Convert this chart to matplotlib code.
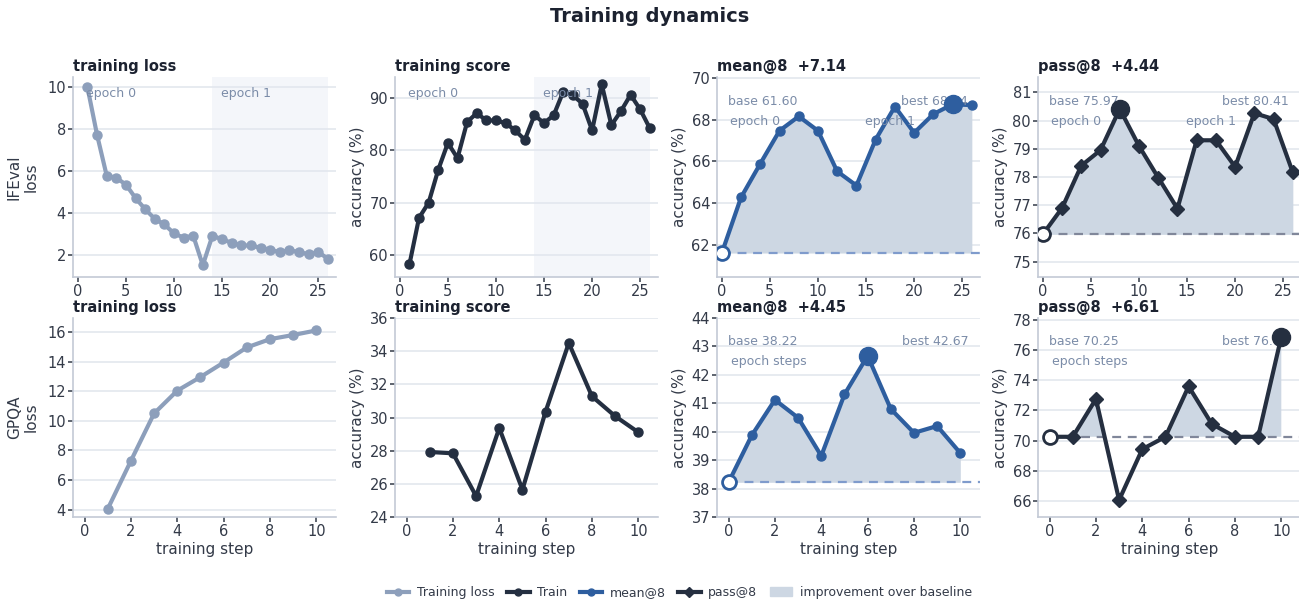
import numpy as np
import matplotlib
matplotlib.use('Agg')
import matplotlib.pyplot as plt
from matplotlib.lines import Line2D
from matplotlib.patches import Patch
from matplotlib.ticker import MultipleLocator
import matplotlib.transforms as mtrans

plt.rcParams['font.family'] = ['DejaVu Sans']

# ---- data ----
ife_loss_steps = list(range(1, 27))
ife_loss = [10.0, 7.73, 5.79, 5.68, 5.36, 4.72, 4.19, 3.73, 3.46, 3.04, 2.83, 2.93, 1.52,
            2.93, 2.75, 2.59, 2.46, 2.46, 2.35, 2.26, 2.14, 2.24, 2.14, 2.05, 2.14, 1.84]
ife_score = [58.2, 67.1, 70.0, 76.3, 81.4, 78.5, 85.4, 87.1, 85.7, 85.7, 85.2, 83.8, 82.0,
             86.7, 85.2, 86.7, 91.2, 90.5, 88.9, 83.8, 92.6, 84.8, 87.5, 90.6, 87.8, 84.2]
ife_eval_steps = list(range(0, 27, 2))
ife_mean = [61.60, 64.27, 65.89, 67.47, 68.16, 67.47, 65.52, 64.84, 67.05, 68.63, 67.37,
            68.27, 68.74, 68.70]
ife_pass = [75.97, 76.90, 78.40, 78.95, 80.41, 79.10, 77.98, 76.88, 79.30, 79.30, 78.36,
            80.26, 80.05, 78.16]
ife_epochs = [0, 14]
ife_epoch_end = 26

gpqa_loss_steps = list(range(1, 11))
gpqa_loss = [4.05, 7.30, 10.50, 12.04, 12.96, 13.94, 14.96, 15.52, 15.80, 16.11]
gpqa_score = [27.92, 27.84, 25.26, 29.36, 25.65, 30.36, 34.49, 31.28, 30.08, 29.11]
gpqa_eval_steps = list(range(0, 11))
gpqa_mean = [38.22, 39.87, 41.12, 40.49, 39.15, 41.31, 42.67, 40.80, 39.96, 40.20, 39.25]
gpqa_pass = [70.25, 70.25, 72.75, 66.07, 69.43, 70.25, 73.58, 71.10, 70.25, 70.25, 76.86]

# ---- style ----
C_LOSS = '#8d9fbb'
C_TRAIN = '#242f41'
C_MEAN = '#2e5e9f'
C_PASS = '#252f40'
C_FILL = '#cdd7e3'
C_SHADE = '#f4f6fa'
C_NOTE = '#7b8ca8'
C_GRID = '#e3e7ee'
C_SPINE = '#c3cad6'
C_TXT = '#333a48'
C_BASE_MEAN = '#7f9bcc'
C_BASE_PASS = '#80879a'

W, H = 1299, 601
fig = plt.figure(figsize=(W / 100, H / 100), dpi=100)

lefts = [73, 395, 717, 1038]
width = 263
rows = [(77, 277), (318, 517)]

def make_ax(col, row):
    top, bot = rows[row]
    return fig.add_axes([lefts[col] / W, 1 - bot / H, width / W, (bot - top) / H])

def style(ax, title):
    for s in ['top', 'right']:
        ax.spines[s].set_visible(False)
    for s in ['left', 'bottom']:
        ax.spines[s].set_color(C_SPINE)
        ax.spines[s].set_linewidth(1.2)
    ax.grid(axis='y', color=C_GRID, lw=1.2)
    ax.set_axisbelow(True)
    ax.tick_params(labelsize=10.5, colors=C_TXT, length=3.5, width=1.1, pad=1.5)
    ax.set_title(title, loc='left', fontsize=10.5, fontweight='bold', color='#1c2230', pad=4)

def xfmt(ax, last, step):
    ax.set_xlim(-0.5, last + 0.85)
    ax.xaxis.set_major_locator(MultipleLocator(step))

def epoch_labels(ax, starts, y=0.92):
    tr = mtrans.blended_transform_factory(ax.transData, ax.transAxes)
    for i, s in enumerate(starts):
        ax.text(s + 0.9, y, 'epoch %d' % i, transform=tr, fontsize=9, color=C_NOTE,
                ha='left', va='center')

def eval_panel(ax, steps, vals, color, marker, base_color, title_name, epoch_starts):
    steps = np.array(steps)
    vals = np.array(vals)
    base = vals[0]
    best_i = int(np.argmax(vals))
    best = vals[best_i]
    ax.fill_between(steps, base, vals, where=vals >= base, interpolate=True,
                    color=C_FILL, lw=0, zorder=1)
    ax.hlines(base, steps[0], ax.get_xlim()[1], colors=base_color, linestyles=(0, (4, 3)),
              lw=1.6, zorder=2)
    ms = 6.5 if marker == 'o' else 7
    ax.plot(steps, vals, color=color, lw=3, marker=marker, ms=ms, zorder=3)
    ax.plot(steps[0], base, 'o', ms=10, mfc='white', mec=color, mew=2, zorder=4)
    ax.plot(steps[best_i], best, 'o', ms=13, color=color, zorder=4)
    ax.text(0.04, 0.88, 'base %.2f' % base, transform=ax.transAxes, fontsize=9,
            color=C_NOTE, ha='left', va='center')
    ax.text(0.955, 0.88, 'best %.2f' % best, transform=ax.transAxes, fontsize=9,
            color=C_NOTE, ha='right', va='center')
    tr = mtrans.blended_transform_factory(ax.transData, ax.transAxes)
    if epoch_starts is None:
        ax.text(0.1, 0.78, 'epoch steps', transform=tr, fontsize=9, color=C_NOTE,
                ha='left', va='center')
    else:
        epoch_labels(ax, epoch_starts, y=0.78)
    style(ax, '%s  %+.2f' % (title_name, best - base))
    ax.set_ylabel('accuracy (%)', fontsize=11, color=C_TXT, labelpad=3)

# ---- IFEval row ----
ax = make_ax(0, 0)
xfmt(ax, 26, 5)
ax.axvspan(ife_epochs[1], ife_epoch_end, color=C_SHADE, lw=0, zorder=0)
ax.plot(ife_loss_steps, ife_loss, color=C_LOSS, lw=3, marker='o', ms=6.5)
ax.set_ylim(0.96, 10.48)
ax.yaxis.set_major_locator(MultipleLocator(2))
epoch_labels(ax, ife_epochs)
style(ax, 'training loss')
ax.set_ylabel('IFEval\nloss', fontsize=11, color=C_TXT, labelpad=6)

ax = make_ax(1, 0)
xfmt(ax, 26, 5)
ax.axvspan(ife_epochs[1], ife_epoch_end, color=C_SHADE, lw=0, zorder=0)
ax.plot(ife_loss_steps, ife_score, color=C_TRAIN, lw=3, marker='o', ms=6.5)
ax.set_ylim(55.8, 94.0)
ax.yaxis.set_major_locator(MultipleLocator(10))
epoch_labels(ax, ife_epochs)
style(ax, 'training score')
ax.set_ylabel('accuracy (%)', fontsize=11, color=C_TXT, labelpad=3)

ax = make_ax(2, 0)
xfmt(ax, 26, 5)
ax.set_ylim(60.45, 70.05)
ax.yaxis.set_major_locator(MultipleLocator(2))
eval_panel(ax, ife_eval_steps, ife_mean, C_MEAN, 'o', C_BASE_MEAN, 'mean@8', ife_epochs)

ax = make_ax(3, 0)
xfmt(ax, 26, 5)
ax.set_ylim(74.46, 81.54)
ax.yaxis.set_major_locator(MultipleLocator(1))
eval_panel(ax, ife_eval_steps, ife_pass, C_PASS, 'D', C_BASE_PASS, 'pass@8', ife_epochs)

# ---- GPQA row ----
ax = make_ax(0, 1)
xfmt(ax, 10, 2)
ax.plot(gpqa_loss_steps, gpqa_loss, color=C_LOSS, lw=3, marker='o', ms=6.5)
ax.set_ylim(3.5, 16.95)
ax.yaxis.set_major_locator(MultipleLocator(2))
style(ax, 'training loss')
ax.set_ylabel('GPQA\nloss', fontsize=11, color=C_TXT, labelpad=6)

ax = make_ax(1, 1)
xfmt(ax, 10, 2)
ax.plot(gpqa_loss_steps, gpqa_score, color=C_TRAIN, lw=3, marker='o', ms=6.5)
ax.set_ylim(24, 36)
ax.yaxis.set_major_locator(MultipleLocator(2))
style(ax, 'training score')
ax.set_ylabel('accuracy (%)', fontsize=11, color=C_TXT, labelpad=3)

ax = make_ax(2, 1)
xfmt(ax, 10, 2)
ax.set_ylim(37, 44)
ax.yaxis.set_major_locator(MultipleLocator(1))
eval_panel(ax, gpqa_eval_steps, gpqa_mean, C_MEAN, 'o', C_BASE_MEAN, 'mean@8', None)

ax = make_ax(3, 1)
xfmt(ax, 10, 2)
ax.set_ylim(64.95, 78.1)
ax.yaxis.set_major_locator(MultipleLocator(2))
eval_panel(ax, gpqa_eval_steps, gpqa_pass, C_PASS, 'D', C_BASE_PASS, 'pass@8', None)

for a in fig.axes[4:]:
    a.set_xlabel('training step', fontsize=11, color=C_TXT, labelpad=2)

fig.suptitle('Training dynamics', fontsize=14, fontweight='bold', color='#1c2230', y=0.972,
             va='center')

handles = [
    Line2D([], [], color=C_LOSS, lw=3, marker='o', ms=5),
    Line2D([], [], color=C_TRAIN, lw=3, marker='o', ms=5),
    Line2D([], [], color=C_MEAN, lw=3, marker='o', ms=5),
    Line2D([], [], color=C_PASS, lw=3, marker='D', ms=5),
    Patch(color=C_FILL),
]
labels = ['Training loss', 'Train', 'mean@8', 'pass@8', 'improvement over baseline']
leg = fig.legend(handles, labels, loc='center', bbox_to_anchor=(0.523, 0.014), ncol=5,
                 frameon=False, fontsize=9, handlelength=1.8, columnspacing=1.0,
                 handletextpad=0.6)
for t in leg.get_texts():
    t.set_color(C_TXT)

fig.savefig('out.png', dpi=100)
